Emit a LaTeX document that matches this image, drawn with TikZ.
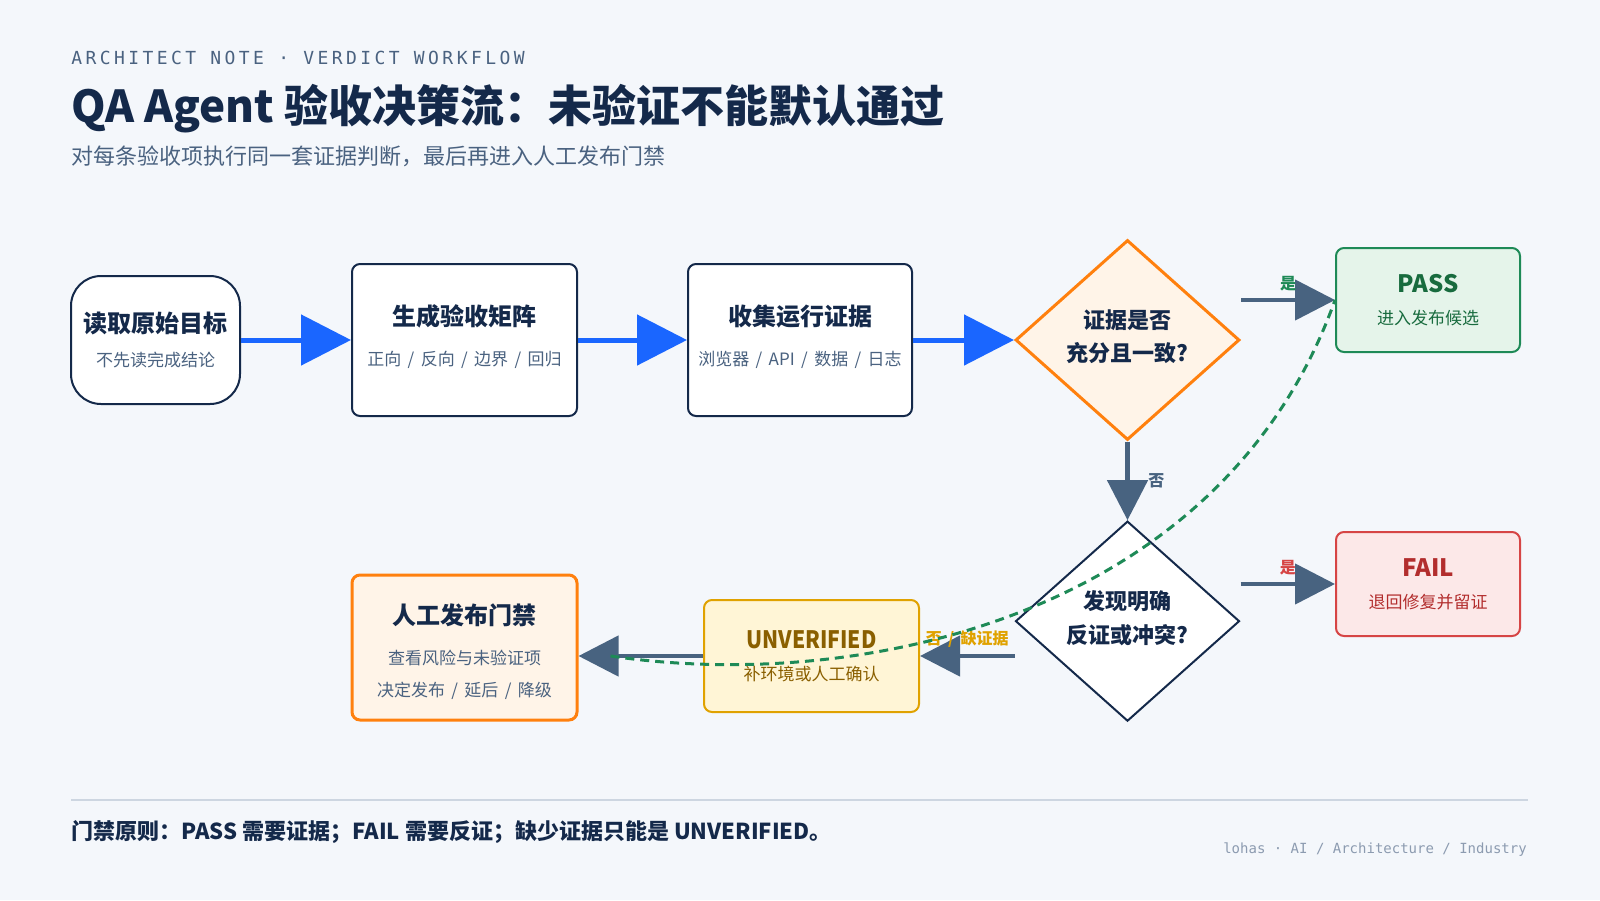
\documentclass[tikz,border=0pt]{standalone}
\usepackage{fontspec}
\usepackage{graphicx}
\setmainfont{Noto Sans CJK SC}
\newfontfamily\monofont{DejaVu Sans Mono}
\newfontfamily\headmono{DejaVu Sans Mono}[LetterSpace=19]
\usetikzlibrary{arrows.meta,positioning,calc,shapes.geometric}
\definecolor{paper}{RGB}{244,247,251}
\definecolor{ink}{RGB}{20,41,74}
\definecolor{muted}{RGB}{74,98,128}
\definecolor{flowblue}{RGB}{26,102,255}
\definecolor{slate}{RGB}{72,99,128}
\definecolor{orangeln}{RGB}{255,128,14}
\definecolor{orangebg}{RGB}{255,244,232}
\definecolor{passln}{RGB}{30,138,87}
\definecolor{passbg}{RGB}{229,244,234}
\definecolor{passtx}{RGB}{24,107,62}
\definecolor{failln}{RGB}{214,69,69}
\definecolor{failbg}{RGB}{252,232,232}
\definecolor{failtx}{RGB}{178,45,45}
\definecolor{unvln}{RGB}{224,162,0}
\definecolor{unvbg}{RGB}{255,245,214}
\definecolor{unvtx}{RGB}{138,95,0}
\definecolor{rulecol}{RGB}{205,214,225}
\definecolor{signcol}{RGB}{140,155,176}
\newcommand{\boxtitle}[1]{{\fontsize{18}{22}\selectfont\bfseries #1}}
\newcommand{\boxsub}[1]{{\color{muted}#1}}
\newcommand{\dv}{\hspace{4.8pt}/\hspace{4.8pt}}
\newcommand{\lift}{\rule[-7.5pt]{0pt}{7.5pt}}

\begin{document}
\begin{tikzpicture}[x=0.75pt, y=-0.75pt,
  box/.style={draw=ink, line width=1.5pt, fill=white, rounded corners=6pt, align=center,
              inner sep=0pt, text=ink, font=\fontsize{12.75}{16}\selectfont},
  dec/.style={diamond, draw=ink, line width=1.5pt, fill=white, align=center, inner sep=0pt,
              minimum width=168pt, minimum height=150pt, text=ink,
              font=\fontsize{16.5}{25}\selectfont\bfseries},
  flow/.style={-{Triangle[length=37.5pt,width=37.5pt]}, line width=3.75pt, draw=flowblue},
  ar/.style={-{Triangle[length=30pt,width=30pt]}, line width=3.4pt, draw=slate},
  lab/.style={font=\fontsize{12}{14}\selectfont\bfseries, inner sep=1pt},
  evid/.style={dash pattern=on 6.75pt off 4.5pt, line width=2.25pt, draw=passln},
]
  \fill[paper] (0,0) rectangle (1600,900);

  \node[anchor=west, inner sep=0pt, text=muted, font=\headmono\fontsize{13.5}{16}\selectfont] (kicker)
        at (71,58) {ARCHITECT NOTE · VERDICT WORKFLOW};
  \node[anchor=west, inner sep=0pt, text=ink, font=\fontsize{33}{38}\selectfont\bfseries] (title)
        at (71,109) {QA Agent 验收决策流：未验证不能默认通过};
  \node[anchor=west, inner sep=0pt, text=muted, font=\fontsize{16.5}{20}\selectfont] (subtitle)
        at (71,156) {对每条验收项执行同一套证据判断，最后再进入人工发布门禁};

  \node[box, rounded corners=22.5pt, minimum width=126.75pt, minimum height=96pt] (goal)
        at (155.5,340) {\boxtitle{读取原始目标}\\[10pt]\boxsub{不先读完成结论}};
  \node[box, minimum width=168.75pt, minimum height=114pt, right=82.5pt of goal] (matrix)
        {\boxtitle{生成验收矩阵}\\[14pt]\boxsub{正向\dv 反向\dv 边界\dv 回归}\lift};
  \node[box, minimum width=168pt, minimum height=114pt, right=81.75pt of matrix] (collect)
        {\boxtitle{收集运行证据}\\[14pt]\boxsub{浏览器\dv API\dv 数据\dv 日志}\lift};
  \node[dec, draw=orangeln, line width=2.25pt, fill=orangebg, right=75.75pt of collect] (enough)
        {证据是否\\充分且一致?\rule[-6.5pt]{0pt}{6.5pt}};
  \node[dec, below=59pt of enough] (conflict) {发现明确\\反证或冲突?\rule[-6.5pt]{0pt}{6.5pt}};

  \node[box, draw=passln, fill=passbg, text=passtx, minimum width=138pt, minimum height=78pt] (pass)
        at (1428,300) {\boxtitle{PASS}\\[8pt]进入发布候选};
  \node[box, draw=failln, fill=failbg, text=failtx, minimum width=138pt, minimum height=78pt] (fail)
        at (1428,584) {\boxtitle{FAIL}\\[8pt]退回修复并留证};
  \node[box, draw=unvln, fill=unvbg, text=unvtx, minimum width=161.25pt, minimum height=84pt] (unv)
        at (811.5,656) {\boxtitle{\scalebox{0.88}[1]{UNVERIFIED}}\\[8pt]补环境或人工确认};
  \node[box, draw=orangeln, line width=2.25pt, fill=orangebg, minimum width=168.75pt,
        minimum height=108.75pt] (gate) at (464.5,647.5)
        {\rule{0pt}{22pt}\boxtitle{人工发布门禁}\\[14pt]\boxsub{查看风险与未验证项}\\[8pt]\boxsub{决定发布\dv 延后\dv 降级}};

  \draw[flow] (goal) -- (matrix);
  \draw[flow] (matrix) -- (collect);
  \draw[flow] (collect) -- (enough);
  \draw[ar] (enough.east |- pass.west) -- node[lab, above=4pt, text=passln]{是} (pass.west);
  \draw[ar] (enough) -- node[lab, right=13pt, text=slate]{否} (conflict);
  \draw[ar] (conflict.east |- fail.west) -- node[lab, above=4pt, text=failln]{是} (fail.west);
  \draw[ar] (conflict.west |- unv.east) -- node[lab, above=4pt, text=unvln]{否\dv 缺证据} (unv.east);
  \draw[ar] (unv.west) -- (unv.west -| gate.east);

  \coordinate (dstart) at ($(unv.west -| gate.east)+(24pt,0)$);
  \draw[evid] (dstart) .. controls (867,694) and (1224,612) .. (pass.west);

  \draw[rulecol, line width=1.5pt] (71,800) -- (1528,800);
  \node[anchor=west, inner sep=0pt, text=ink, font=\fontsize{16.5}{20}\selectfont\bfseries] (principle)
        at (71,832) {门禁原则：PASS 需要证据；FAIL 需要反证；缺少证据只能是 UNVERIFIED。};
  \node[anchor=east, inner sep=0pt, text=signcol, font=\monofont\fontsize{10.5}{12}\selectfont] (sign)
        at (1527,850) {lohas · AI / Architecture / Industry};
\end{tikzpicture}
\end{document}
